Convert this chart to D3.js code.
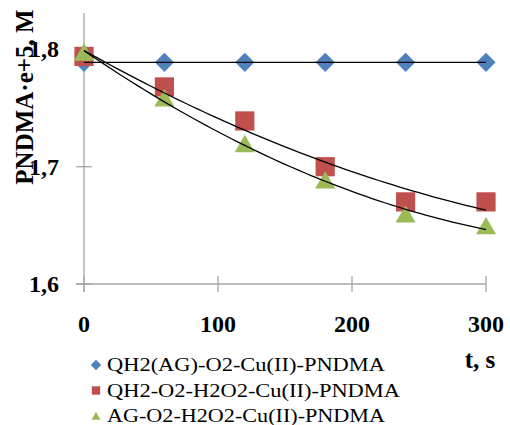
<!DOCTYPE html>
<html>
<head>
<meta charset="utf-8">
<script src="https://cdn.jsdelivr.net/npm/d3@7"></script>
<style>
  body { margin: 0; background: #fff; }
  text { font-family: "Liberation Serif", "Times New Roman", serif; fill: #000; }
</style>
</head>
<body>
<svg id="chart"></svg>
<script>
// data
const times = [0, 60, 120, 180, 240, 300];
const seriesNames = ['QH2(AG)-O2-Cu(II)-PNDMA', 'QH2-O2-H2O2-Cu(II)-PNDMA', 'AG-O2-H2O2-Cu(II)-PNDMA'];
const blueValues = [1.789, 1.789, 1.789, 1.789, 1.789, 1.789];
const redValues = [1.794, 1.768, 1.739, 1.700, 1.670, 1.670];
const greenValues = [1.797, 1.758, 1.719, 1.688, 1.659, 1.649];
const xTicks = [0, 100, 200, 300];
const yTicks = [1.6, 1.7, 1.8];

const width = 510, height = 425;
const svg = d3.select('#chart').attr('width', width).attr('height', height);

const x = d3.scaleLinear().domain([0, 300]).range([84, 486]);
const y = d3.scaleLinear().domain([1.6, 1.8]).range([284, 49.4]);

const series = [
  {name: seriesNames[0], values: blueValues, color: '#4f81bd', shape: 'diamond'},
  {name: seriesNames[1], values: redValues, color: '#c0504d', shape: 'square'},
  {name: seriesNames[2], values: greenValues, color: '#9bbb59', shape: 'triangle'}
];

// axes
const axisColor = '#a6a6a6';
svg.append('line').attr('x1', x(0)).attr('x2', x(0)).attr('y1', 13).attr('y2', 292)
  .attr('stroke', axisColor).attr('stroke-width', 1.3);
svg.append('line').attr('x1', 76).attr('x2', x(300)).attr('y1', y(1.6)).attr('y2', y(1.6))
  .attr('stroke', axisColor).attr('stroke-width', 1.3);

yTicks.forEach(v => {
  svg.append('line').attr('x1', 76).attr('x2', 92).attr('y1', y(v)).attr('y2', y(v))
    .attr('stroke', axisColor).attr('stroke-width', 1.3);
  svg.append('text').attr('x', 59).attr('y', y(v) + 8)
    .attr('text-anchor', 'end').attr('font-size', 24).attr('font-weight', 'bold')
    .text(d3.format('.1f')(v).replace('.', ','));
});
xTicks.forEach(v => {
  svg.append('line').attr('x1', x(v)).attr('x2', x(v)).attr('y1', 276).attr('y2', 292)
    .attr('stroke', axisColor).attr('stroke-width', 1.3);
  svg.append('text').attr('x', x(v)).attr('y', 332)
    .attr('text-anchor', 'middle').attr('font-size', 24).attr('font-weight', 'bold')
    .text(v);
});

svg.append('text').attr('x', 480).attr('y', 368)
  .attr('text-anchor', 'middle').attr('font-size', 25).attr('font-weight', 'bold')
  .text('t, s');

svg.append('text').attr('transform', 'translate(33,97) rotate(-90)')
  .attr('text-anchor', 'middle').attr('font-size', 25).attr('font-weight', 'bold')
  .text('PNDMA·e+5, M');

const symbolOf = (shape, s) => {
  if (shape === 'diamond') return d3.symbol().type(d3.symbolDiamond2).size(s)();
  if (shape === 'square') return d3.symbol().type(d3.symbolSquare2).size(s)();
  return d3.symbol().type(d3.symbolTriangle2).size(s)();
};
const bigSize = {diamond: 235, square: 470, triangle: 290};
const smallSize = {diamond: 70, square: 90, triangle: 60};

// markers
series.forEach(s => {
  svg.append('g').selectAll('path')
    .data(times.map((t, i) => [t, s.values[i]]))
    .join('path')
    .attr('transform', d => `translate(${x(d[0])},${y(d[1]) + (s.shape === 'triangle' ? 2 : 0)})`)
    .attr('d', symbolOf(s.shape, bigSize[s.shape]))
    .attr('fill', s.color);
});

// quadratic least-squares trend lines
function quadFit(xs, ys) {
  const n = xs.length;
  let S = [0, 0, 0, 0, 0], T = [0, 0, 0];
  for (let i = 0; i < n; i++) {
    for (let k = 0; k < 5; k++) S[k] += Math.pow(xs[i], k);
    for (let k = 0; k < 3; k++) T[k] += ys[i] * Math.pow(xs[i], k);
  }
  const A = [[S[0], S[1], S[2], T[0]], [S[1], S[2], S[3], T[1]], [S[2], S[3], S[4], T[2]]];
  for (let c = 0; c < 3; c++) {
    for (let r = c + 1; r < 3; r++) {
      const f = A[r][c] / A[c][c];
      for (let k = c; k < 4; k++) A[r][k] -= f * A[c][k];
    }
  }
  const b = [0, 0, 0];
  for (let r = 2; r >= 0; r--) {
    let v = A[r][3];
    for (let k = r + 1; k < 3; k++) v -= A[r][k] * b[k];
    b[r] = v / A[r][r];
  }
  return t => b[0] + b[1] * t + b[2] * t * t;
}

const line = d3.line().x(d => x(d[0])).y(d => y(d[1]));
series.forEach(s => {
  const f = quadFit(times, s.values);
  const pts = d3.range(0, 301, 5).map(t => [t, f(t)]);
  svg.append('path').attr('d', line(pts))
    .attr('fill', 'none').attr('stroke', '#000').attr('stroke-width', 1.3);
});

// legend
series.forEach((s, i) => {
  const ly = 365 + i * 25.5;
  svg.append('path').attr('transform', `translate(96,${ly + (s.shape === 'triangle' ? 1 : 0)})`)
    .attr('d', symbolOf(s.shape, smallSize[s.shape])).attr('fill', s.color);
  svg.append('text').attr('x', 107).attr('y', ly + 6)
    .attr('font-size', 19)
    .attr('textLength', i === 1 ? 293 : 278).attr('lengthAdjust', 'spacingAndGlyphs')
    .text(s.name);
});
</script>
</body>
</html>
